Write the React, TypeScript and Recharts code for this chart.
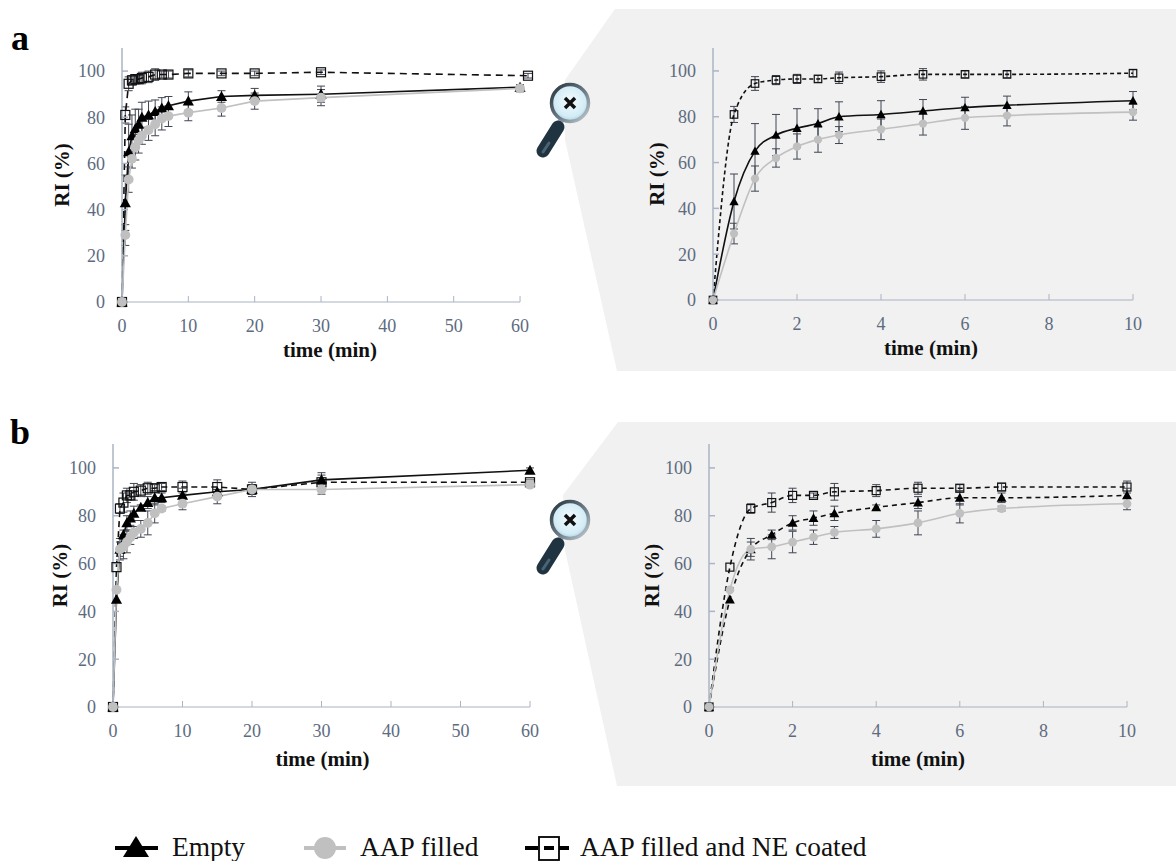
import {
  ErrorBar,
  Line,
  LineChart,
  ReferenceLine,
  XAxis,
  YAxis,
} from "recharts";

const SERIF = "'Liberation Serif', serif";
const AXIS_COLOR = "#aab4c4";
const TICK_COLOR = "#5d6b80";
const ERR_COLOR = "#3f4652";
const GREY = "#c0c0c0";

// sampling times (min)
const timesA = [0, 0.5, 1, 1.5, 2, 2.5, 3, 4, 5, 6, 7, 10, 15, 20, 30, 60];
const timesCoatedA = [0, 0.5, 1, 1.5, 2, 2.5, 3, 4, 5, 6, 7, 10, 15, 20, 30, 61.2];
const timesB = [0, 0.5, 1, 1.5, 2, 2.5, 3, 4, 5, 6, 7, 10, 15, 20, 30, 60];

// panel a
const emptyA = [0, 43, 65, 72, 75, 77, 80, 81, 82.5, 84, 85, 87, 89, 89.5, 90, 93];
const emptyErrA = [0, 12, 12, 9, 8.5, 6.5, 6.5, 6, 5, 4.5, 4, 4, 2.5, 3, 3.5, 1];
const filledA = [0, 29, 53, 62, 67, 70, 72, 74.5, 77, 79.5, 80.5, 82, 84, 87, 88.5, 92.5];
const filledErrA = [0, 4.5, 5.5, 4, 5.5, 5.5, 3.7, 4.5, 5, 5, 4.5, 3.5, 3.5, 3.5, 3.5, 1.5];
const coatedA = [0, 81, 94.5, 96, 96.5, 96.5, 97, 97.5, 98.5, 98.5, 98.5, 99, 99, 99, 99.5, 98];
const coatedErrA = [0, 3.5, 3, 2, 2, 1.5, 2.5, 2.5, 2.5, 1.5, 1.5, 1.5, 1, 1, 1, 1];

// panel b
const emptyB = [0, 45, 66, 72, 77, 79, 81, 83.5, 85.5, 87.5, 87.5, 88.5, 90, 91, 95, 99];
const emptyErrB = [0, 0, 3, 2, 3, 3, 3, 1, 2.5, 3, 2, 3, 1, 2, 3, 1];
const filledB = [0, 49, 66, 67, 69, 71, 73, 74.5, 77, 81, 83, 85, 88, 91, 91, 93];
const filledErrB = [0, 0, 4.5, 5, 4.5, 3, 2.5, 3.5, 5, 4, 1, 2.5, 3, 3, 2, 1];
const coatedB = [0, 58.5, 83, 85.5, 88.5, 88.5, 90, 90.5, 91.5, 91.5, 92, 92, 92, 91, 94, 94];
const coatedErrB = [0, 0, 2, 4, 3, 1, 3.5, 2.5, 2.5, 1.5, 1.5, 2.5, 3, 2, 3, 1];

const yTicks = [0, 20, 40, 60, 80, 100];
const xTicksWide = [0, 10, 20, 30, 40, 50, 60];
const xTicksZoom = [0, 2, 4, 6, 8, 10];

const ZOOM_POINTS = 12;

function rows(times: number[], values: number[], errs: number[], count = times.length) {
  return times.slice(0, count).map((t, i) => ({ t, y: values[i], e: errs[i] }));
}

function triangleDot(size: number) {
  return (props: any) => {
    const { cx, cy } = props;
    return (
      <path
        key={`tri-${cx}-${cy}`}
        d={`M${cx} ${cy - size}L${cx + size} ${cy + size * 0.8}L${cx - size} ${cy + size * 0.8}Z`}
        fill="#000"
      />
    );
  };
}

function circleDot(r: number) {
  return (props: any) => (
    <circle key={`c-${props.cx}-${props.cy}`} cx={props.cx} cy={props.cy} r={r} fill={GREY} />
  );
}

function squareDot(size: number) {
  return (props: any) => (
    <rect
      key={`s-${props.cx}-${props.cy}`}
      x={props.cx - size / 2}
      y={props.cy - size / 2}
      width={size}
      height={size}
      fill="none"
      stroke="#111"
      strokeWidth={1.2}
    />
  );
}

type Row = { t: number; y: number; e: number };

type PanelProps = {
  x0: number; // pixel of x = 0
  x1: number; // pixel of the right end of the domain
  yTop: number;
  yBottom: number;
  xMax: number;
  axisEnd: number;
  xTicks: number[];
  empty: Row[];
  filled: Row[];
  coated: Row[];
  emptyDash?: string;
  coatedDash: string;
  lineType: "linear" | "monotone";
  titleDx: number;
  titleOffset: number;
  yTitleGap: number;
  markerSize: number;
};

function Panel({
  x0,
  x1,
  yTop,
  yBottom,
  xMax,
  axisEnd,
  xTicks,
  empty,
  filled,
  coated,
  emptyDash,
  coatedDash,
  lineType,
  titleDx,
  titleOffset,
  yTitleGap,
  markerSize,
}: PanelProps) {
  const leftGutter = 90;
  const topGutter = 10;
  const bottomGutter = 70;
  const rightGutter = 20;
  const width = leftGutter + (x1 - x0) + rightGutter;
  const height = topGutter + (yBottom - yTop) + bottomGutter;
  const tickStyle = { fill: TICK_COLOR, fontSize: 18, fontFamily: SERIF };
  const titleStyle = { fill: "#111", fontSize: 21, fontWeight: 700, fontFamily: SERIF };

  return (
    <div style={{ position: "absolute", left: x0 - leftGutter, top: yTop - topGutter }}>
      <LineChart
        width={width}
        height={height}
        margin={{ top: topGutter, right: rightGutter, bottom: 0, left: 0 }}
      >
        <XAxis
          type="number"
          dataKey="t"
          domain={[0, xMax]}
          ticks={xTicks}
          axisLine={false}
          height={bottomGutter}
          stroke={AXIS_COLOR}
          tickSize={-6}
          tickMargin={23}
          tick={tickStyle}
          label={{
            value: "time (min)",
            position: "insideBottom",
            offset: titleOffset,
            dx: titleDx,
            style: titleStyle,
          }}
        />
        <YAxis
          type="number"
          domain={[0, 110]}
          ticks={yTicks}
          width={leftGutter}
          stroke={AXIS_COLOR}
          strokeWidth={1.5}
          tickSize={-6}
          tickMargin={23}
          tick={tickStyle}
          label={{
            value: "RI (%)",
            angle: -90,
            position: "insideLeft",
            offset: leftGutter - yTitleGap,
            textAnchor: "middle",
            style: titleStyle,
          }}
        />
        <ReferenceLine
          segment={[
            { x: 0, y: 0 },
            { x: axisEnd, y: 0 },
          ]}
          stroke={AXIS_COLOR}
          strokeWidth={1.2}
        />
        <Line
          data={coated}
          dataKey="y"
          type={lineType}
          stroke="#111"
          strokeWidth={1.6}
          strokeDasharray={coatedDash}
          dot={squareDot(markerSize)}
          isAnimationActive={false}
        >
          <ErrorBar dataKey="e" width={4} strokeWidth={1} stroke={ERR_COLOR} />
        </Line>
        <Line
          data={empty}
          dataKey="y"
          type={lineType}
          stroke="#111"
          strokeWidth={1.6}
          strokeDasharray={emptyDash}
          dot={triangleDot(markerSize * 0.62)}
          isAnimationActive={false}
        >
          <ErrorBar dataKey="e" width={4} strokeWidth={1} stroke={ERR_COLOR} />
        </Line>
        <Line
          data={filled}
          dataKey="y"
          type={lineType}
          stroke={GREY}
          strokeWidth={1.6}
          dot={circleDot(markerSize * 0.55)}
          isAnimationActive={false}
        >
          <ErrorBar dataKey="e" width={4} strokeWidth={1} stroke={ERR_COLOR} />
        </Line>
      </LineChart>
    </div>
  );
}

function Loupe({ cx, cy }: { cx: number; cy: number }) {
  return (
    <g>
      <line x1={cx - 8} y1={cy + 16} x2={cx - 13} y2={cy + 25} stroke="#b9c3c9" strokeWidth={6} />
      <line x1={cx - 12} y1={cy + 24} x2={cx - 27} y2={cy + 48} stroke="#1f3340" strokeWidth={13} strokeLinecap="round" />
      <line x1={cx - 21} y1={cy + 40} x2={cx - 27} y2={cy + 49} stroke="#4a6475" strokeWidth={3} strokeLinecap="round" />
      <circle cx={cx} cy={cy} r={18.5} fill="url(#glass)" stroke="url(#rim)" strokeWidth={3.5} />
      <path
        d={`M${cx - 5} ${cy - 5}L${cx + 5} ${cy + 5}M${cx + 5} ${cy - 5}L${cx - 5} ${cy + 5}`}
        stroke="#111"
        strokeWidth={3.5}
      />
    </g>
  );
}

function Backdrop() {
  return (
    <svg width={1176} height={861} style={{ position: "absolute", left: 0, top: 0 }}>
      <defs>
        <radialGradient id="glass" cx="50%" cy="45%" r="60%">
          <stop offset="0%" stopColor="#f4fbfe" />
          <stop offset="70%" stopColor="#d3ecf6" />
          <stop offset="100%" stopColor="#9fc6d8" />
        </radialGradient>
        <linearGradient id="rim" x1="0" y1="0" x2="1" y2="1">
          <stop offset="0%" stopColor="#27333c" />
          <stop offset="55%" stopColor="#6d7d88" />
          <stop offset="100%" stopColor="#c5ced4" />
        </linearGradient>
      </defs>
      <polygon points="615,9 1176,9 1176,371 617,371 565,140 565,80" fill="#f1f1f1" />
      <polygon points="618,422 1176,422 1176,786 617,786 565,550 563,495" fill="#f1f1f1" />
      <Loupe cx={570} cy={103} />
      <Loupe cx={570} cy={520} />
      <text x={11} y={50} fontFamily={SERIF} fontWeight={700} fontSize={36} fill="#000">a</text>
      <text x={10} y={444} fontFamily={SERIF} fontWeight={700} fontSize={36} fill="#000">b</text>
    </svg>
  );
}

function FigureLegend() {
  const y = 848;
  const textStyle = { fontFamily: SERIF, fontSize: 27.4, fill: "#111" };
  return (
    <svg width={1176} height={861} style={{ position: "absolute", left: 0, top: 0, pointerEvents: "none" }}>
      <line x1={115} x2={158} y1={y} y2={y} stroke="#000" strokeWidth={4} />
      <path d={`M136 ${y - 12}L149 ${y + 9}L123 ${y + 9}Z`} fill="#000" />
      <text x={172} y={y + 8} {...textStyle}>Empty</text>

      <line x1={304} x2={346} y1={y} y2={y} stroke={GREY} strokeWidth={4} />
      <circle cx={325} cy={y} r={11} fill={GREY} />
      <text x={360} y={y + 8} {...textStyle}>AAP filled</text>

      <line x1={525} x2={569} y1={y} y2={y} stroke="#000" strokeWidth={4} strokeDasharray="13 6 10 5 10" />
      <rect x={539} y={y - 11} width={20} height={23} fill="none" stroke="#000" strokeWidth={1.8} />
      <text x={580} y={y + 8} {...textStyle}>AAP filled and NE coated</text>
    </svg>
  );
}

export default function App() {
  return (
    <div
      style={{
        position: "absolute",
        left: 0,
        top: 0,
        width: 1176,
        height: 861,
        overflow: "hidden",
        background: "#fff",
      }}
    >
      <Backdrop />
      <Panel
        x0={122}
        x1={528}
        yTop={48}
        yBottom={302}
        xMax={61.2}
        axisEnd={60}
        xTicks={xTicksWide}
        empty={rows(timesA, emptyA, emptyErrA)}
        filled={rows(timesA, filledA, filledErrA)}
        coated={rows(timesCoatedA, coatedA, coatedErrA)}
        coatedDash="7 5"
        lineType="linear"
        titleDx={5}
        titleOffset={15}
        yTitleGap={60}
        markerSize={9}
      />
      <Panel
        x0={713}
        x1={1133}
        yTop={48}
        yBottom={300}
        xMax={10}
        axisEnd={10}
        xTicks={xTicksZoom}
        empty={rows(timesA, emptyA, emptyErrA, ZOOM_POINTS)}
        filled={rows(timesA, filledA, filledErrA, ZOOM_POINTS)}
        coated={rows(timesCoatedA, coatedA, coatedErrA, ZOOM_POINTS)}
        coatedDash="4 3"
        lineType="monotone"
        titleDx={8}
        titleOffset={15}
        yTitleGap={56}
        markerSize={7.5}
      />
      <Panel
        x0={113}
        x1={530}
        yTop={444}
        yBottom={707}
        xMax={60}
        axisEnd={60}
        xTicks={xTicksWide}
        empty={rows(timesB, emptyB, emptyErrB)}
        filled={rows(timesB, filledB, filledErrB)}
        coated={rows(timesB, coatedB, coatedErrB)}
        coatedDash="6 4"
        lineType="linear"
        titleDx={1}
        titleOffset={11}
        yTitleGap={53}
        markerSize={9}
      />
      <Panel
        x0={709}
        x1={1127}
        yTop={444}
        yBottom={707}
        xMax={10}
        axisEnd={10}
        xTicks={xTicksZoom}
        empty={rows(timesB, emptyB, emptyErrB, ZOOM_POINTS)}
        filled={rows(timesB, filledB, filledErrB, ZOOM_POINTS)}
        coated={rows(timesB, coatedB, coatedErrB, ZOOM_POINTS)}
        emptyDash="5 4"
        coatedDash="5 4"
        lineType="monotone"
        titleDx={0}
        titleOffset={11}
        yTitleGap={57}
        markerSize={8}
      />
      <FigureLegend />
    </div>
  );
}
